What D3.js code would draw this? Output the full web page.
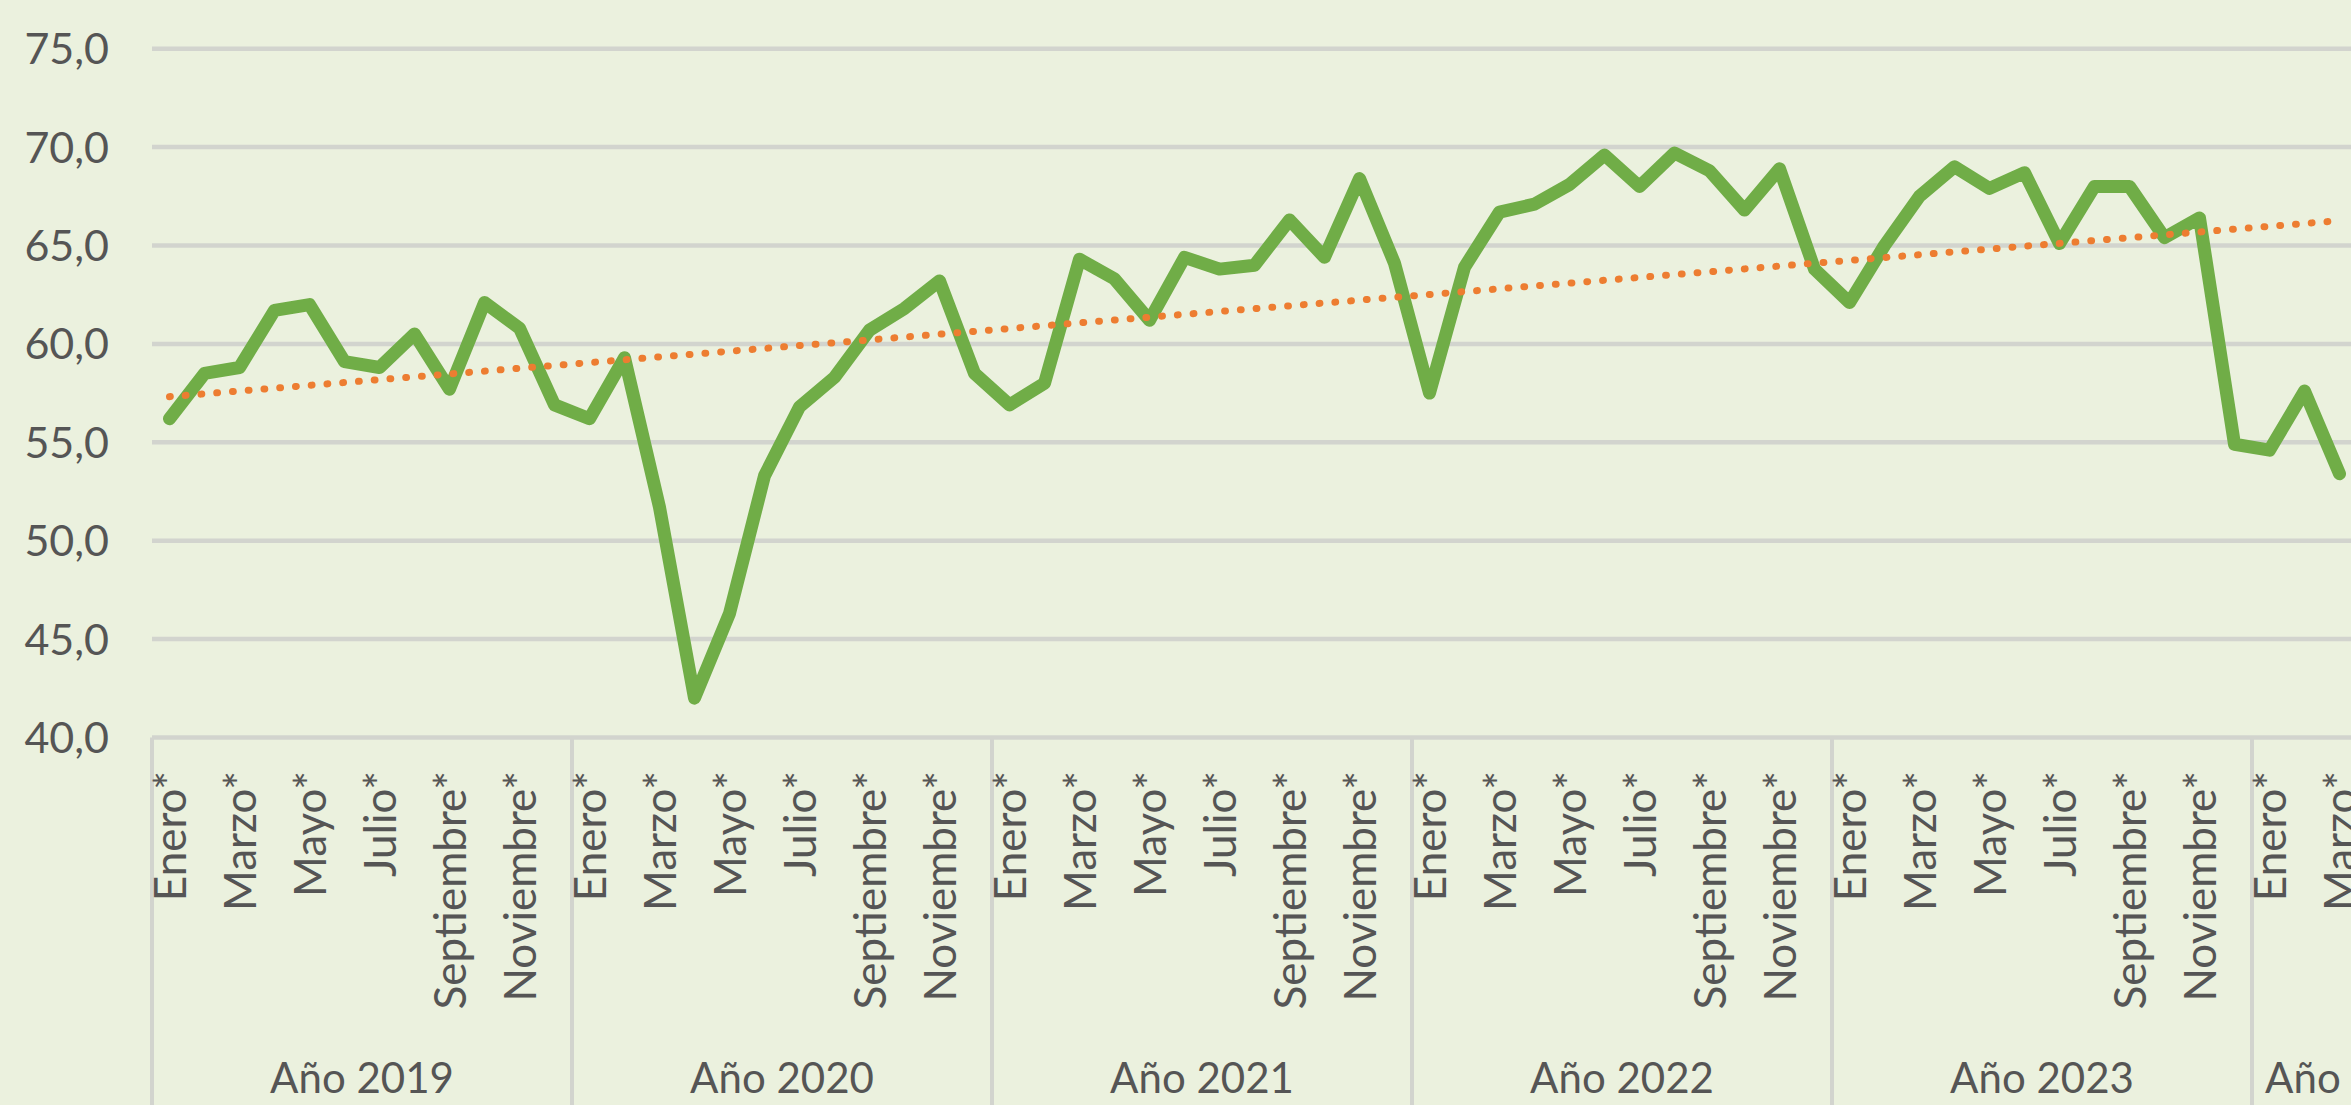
<!DOCTYPE html>
<html>
<head>
<meta charset="utf-8">
<script src="https://cdn.jsdelivr.net/npm/d3@7"></script>
<style>
  html, body { margin: 0; padding: 0; background: #EBF1DE; overflow: hidden; }
  svg { display: block; }
  text { font-family: Lato, "Open Sans", sans-serif; fill: #555555; }
</style>
</head>
<body>
<div id="chart"></div>
<script>
// categories
var years = ["2019", "2020", "2021", "2022", "2023", "2024"];
var monthNames = ["Enero", "Febrero", "Marzo", "Abril", "Mayo", "Junio",
                  "Julio", "Agosto", "Septiembre", "Octubre", "Noviembre", "Diciembre"];
// months shown per year (2024 group only goes to June)
var monthsPerYear = [12, 12, 12, 12, 12, 6];

// series values, jan 2019 -> mar 2024
var values = [
  56.2, 58.5, 58.8, 61.7, 62.0, 59.1, 58.8, 60.5, 57.7, 62.1, 60.8, 56.9,
  56.2, 59.3, 51.7, 42.0, 46.3, 53.3, 56.8, 58.3, 60.7, 61.8, 63.2, 58.5,
  56.9, 58.0, 64.3, 63.3, 61.2, 64.4, 63.8, 64.0, 66.3, 64.4, 68.4, 64.1,
  57.5, 63.9, 66.7, 67.1, 68.1, 69.6, 68.0, 69.7, 68.8, 66.8, 68.9, 63.8,
  62.1, 65.0, 67.5, 69.0, 67.9, 68.7, 65.1, 68.0, 68.0, 65.4, 66.4, 54.9,
  54.6, 57.6, 53.4
];

var yTicks = [40, 45, 50, 55, 60, 65, 70, 75];

var width = 2351, height = 1105;
var plotLeft = 152, bandW = 35;
var plotTop = 48.7, plotBottom = 737.5;

// build category list
var cats = [];
years.forEach(function(yr, yi) {
  for (var m = 0; m < monthsPerYear[yi]; m++) {
    cats.push({ key: yr + "-" + m, year: yr, month: m });
  }
});

var svg = d3.select("#chart").append("svg")
    .attr("width", width)
    .attr("height", height);

var x = d3.scaleBand()
    .domain(cats.map(function(d) { return d.key; }))
    .range([plotLeft, plotLeft + cats.length * bandW])
    .padding(0);

var y = d3.scaleLinear()
    .domain([40, 75])
    .range([plotBottom, plotTop]);

var cx = function(i) { return x(cats[i].key) + x.bandwidth() / 2; };

// gridlines
svg.append("g")
  .selectAll("line")
  .data(yTicks)
  .enter().append("line")
    .attr("x1", plotLeft)
    .attr("x2", width)
    .attr("y1", function(d) { return y(d); })
    .attr("y2", function(d) { return y(d); })
    .attr("stroke", "#d2d4ce")
    .attr("stroke-width", 4.5);

// y axis labels
svg.append("g")
  .selectAll("text")
  .data(yTicks)
  .enter().append("text")
    .attr("x", 109)
    .attr("y", function(d) { return y(d); })
    .attr("dy", "0.36em")
    .attr("text-anchor", "end")
    .style("font-size", "43px")
    .text(function(d) { return d.toFixed(1).replace(".", ","); });

// year groups
var yearStarts = [];
var acc = 0;
monthsPerYear.forEach(function(n, i) {
  yearStarts.push({ year: years[i], first: acc, n: n });
  acc += n;
});

svg.append("g")
  .selectAll("line")
  .data(yearStarts)
  .enter().append("line")
    .attr("x1", function(d) { return x(cats[d.first].key); })
    .attr("x2", function(d) { return x(cats[d.first].key); })
    .attr("y1", plotBottom)
    .attr("y2", height)
    .attr("stroke", "#d2d4ce")
    .attr("stroke-width", 4);

// month labels (every other month)
svg.append("g")
  .selectAll("text")
  .data(cats.filter(function(d) { return d.month % 2 === 0; }))
  .enter().append("text")
    .attr("transform", function(d) {
      var px = x(d.key) + x.bandwidth() / 2 + 16;
      return "translate(" + px + ",771) rotate(-90)";
    })
    .attr("text-anchor", "end")
    .style("font-size", "44px")
    .text(function(d) { return monthNames[d.month] + "*"; });

// year labels
svg.append("g")
  .selectAll("text")
  .data(yearStarts)
  .enter().append("text")
    .attr("x", function(d) { return x(cats[d.first].key) + d.n * bandW / 2; })
    .attr("y", 1093)
    .attr("text-anchor", "middle")
    .style("font-size", "42px")
    .text(function(d) { return "A\u00f1o " + d.year; });

// data line
var line = d3.line()
    .x(function(d, i) { return cx(i); })
    .y(function(d) { return y(d); });

svg.append("path")
    .datum(values)
    .attr("d", line)
    .attr("fill", "none")
    .attr("stroke", "#70AD47")
    .attr("stroke-width", 13)
    .attr("stroke-linejoin", "round")
    .attr("stroke-linecap", "round");

// linear trend (least squares, like excel)
var n = values.length;
var mx = d3.mean(values, function(d, i) { return i; });
var my = d3.mean(values);
var sxy = 0, sxx = 0;
values.forEach(function(v, i) {
  sxy += (i - mx) * (v - my);
  sxx += (i - mx) * (i - mx);
});
var slope = sxy / sxx;
var icpt = my - slope * mx;
var trend = [icpt, icpt + slope * (n - 1)];

svg.append("line")
    .attr("x1", cx(0))
    .attr("y1", y(trend[0]))
    .attr("x2", cx(n - 1))
    .attr("y2", y(trend[1]))
    .attr("stroke", "#ED7D31")
    .attr("stroke-width", 7)
    .attr("stroke-linecap", "round")
    .attr("stroke-dasharray", "0.8 15");
</script>
</body>
</html>
